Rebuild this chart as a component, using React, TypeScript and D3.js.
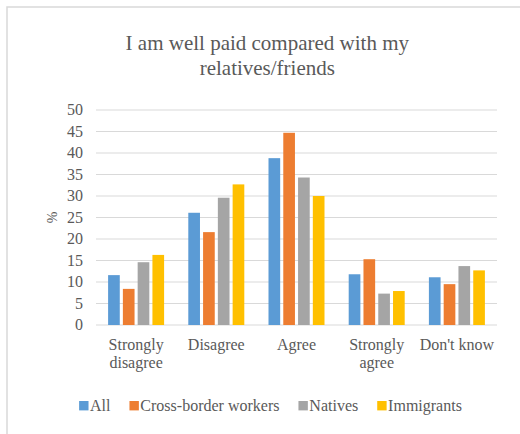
import React, { useEffect, useRef } from "react";
import * as d3 from "d3";

const categories = ["Strongly disagree", "Disagree", "Agree", "Strongly agree", "Don't know"];
const categoryLines = [["Strongly", "disagree"], ["Disagree"], ["Agree"], ["Strongly", "agree"], ["Don't know"]];
const seriesNames = ["All", "Cross-border workers", "Natives", "Immigrants"];
const seriesColors = ["#5B9BD5", "#ED7D31", "#A5A5A5", "#FFC000"];
const allValues = [11.6, 26.1, 38.8, 11.8, 11.1];
const crossBorderValues = [8.4, 21.6, 44.7, 15.3, 9.5];
const nativesValues = [14.6, 29.6, 34.3, 7.3, 13.7];
const immigrantsValues = [16.3, 32.7, 30.0, 7.9, 12.7];
const yTicks = [0, 5, 10, 15, 20, 25, 30, 35, 40, 45, 50];
const titleLines = ["I am well paid compared with my", "relatives/friends"];

const seriesValues = [allValues, crossBorderValues, nativesValues, immigrantsValues];

export default function App() {
  const ref = useRef<SVGSVGElement>(null);
  useEffect(() => {
    const svg = d3.select(ref.current);
    svg.selectAll("*").remove();
    const font = "Liberation Serif, Times New Roman, serif";
    const textColor = "#595959";
    const left = 96, right = 497, top = 110, bottom = 325;

    // chart border
    svg.append("rect").attr("x", 7).attr("y", 7).attr("width", 530).attr("height", 450)
      .attr("fill", "#fff").attr("stroke", "#d9d9d9").attr("stroke-width", 1.5);

    // title
    const title = svg.append("text").attr("font-family", font).attr("font-size", 21)
      .attr("fill", textColor).attr("text-anchor", "middle");
    titleLines.forEach((l, i) => title.append("tspan").attr("x", 267.3).attr("y", 49.5 + i * 25).text(l));

    const y = d3.scaleLinear().domain([0, 50]).range([bottom, top]);
    const x0 = d3.scaleBand<string>().domain(categories).range([left, right]).padding(0);
    const groupW = 56;
    const x1 = d3.scaleBand<number>().domain([0, 1, 2, 3]).range([0, groupW]).paddingInner(0.21).paddingOuter(0);

    // gridlines
    svg.append("g").selectAll("line").data(yTicks).join("line")
      .attr("x1", left).attr("x2", right)
      .attr("y1", d => y(d)).attr("y2", d => y(d))
      .attr("stroke", "#d9d9d9").attr("stroke-width", 1);

    // y tick labels
    svg.append("g").selectAll("text").data(yTicks).join("text")
      .attr("x", 83).attr("y", d => y(d)).attr("dy", "0.33em")
      .attr("text-anchor", "end").attr("font-family", font).attr("font-size", 16)
      .attr("fill", textColor).text(d => String(d));

    // y axis title
    svg.append("text").attr("transform", `translate(57,${(top + bottom) / 2}) rotate(-90)`)
      .attr("text-anchor", "middle").attr("font-family", font).attr("font-size", 14)
      .attr("fill", textColor).text("%");

    // bars
    seriesValues.forEach((vals, si) => {
      svg.append("g").selectAll("rect").data(vals).join("rect")
        .attr("x", (d, i) => (x0(categories[i]) as number) + x0.bandwidth() / 2 - groupW / 2 + (x1(si) as number))
        .attr("y", d => y(d))
        .attr("width", x1.bandwidth())
        .attr("height", d => y(0) - y(d))
        .attr("fill", seriesColors[si]);
    });

    // category labels
    categoryLines.forEach((lines, i) => {
      const cx = (x0(categories[i]) as number) + x0.bandwidth() / 2;
      const t = svg.append("text").attr("font-family", font).attr("font-size", 16)
        .attr("fill", textColor).attr("text-anchor", "middle");
      lines.forEach((l, j) => t.append("tspan").attr("x", cx).attr("y", 350 + j * 17.5).text(l));
    });

    // legend
    const lg = svg.append("g");
    const sq = 9.4, gapText = 1.5, gapItem = 19;
    let cursor = 0;
    seriesNames.forEach((n, i) => {
      const g = lg.append("g");
      g.append("rect").attr("x", cursor).attr("y", 401).attr("width", sq).attr("height", sq).attr("fill", seriesColors[i]);
      const t = g.append("text").attr("x", cursor + sq + gapText).attr("y", 410.5)
        .attr("font-family", font).attr("font-size", 16).attr("fill", textColor).text(n);
      const w = (t.node() as SVGTextElement).getComputedTextLength();
      cursor += sq + gapText + w + gapItem;
    });
    const totalW = cursor - gapItem;
    lg.attr("transform", `translate(${270.5 - totalW / 2},0)`);
  }, []);
  return (
    <svg ref={ref} width={520} height={434} style={{ position: "absolute", left: 0, top: 0, background: "#fff" }} />
  );
}
